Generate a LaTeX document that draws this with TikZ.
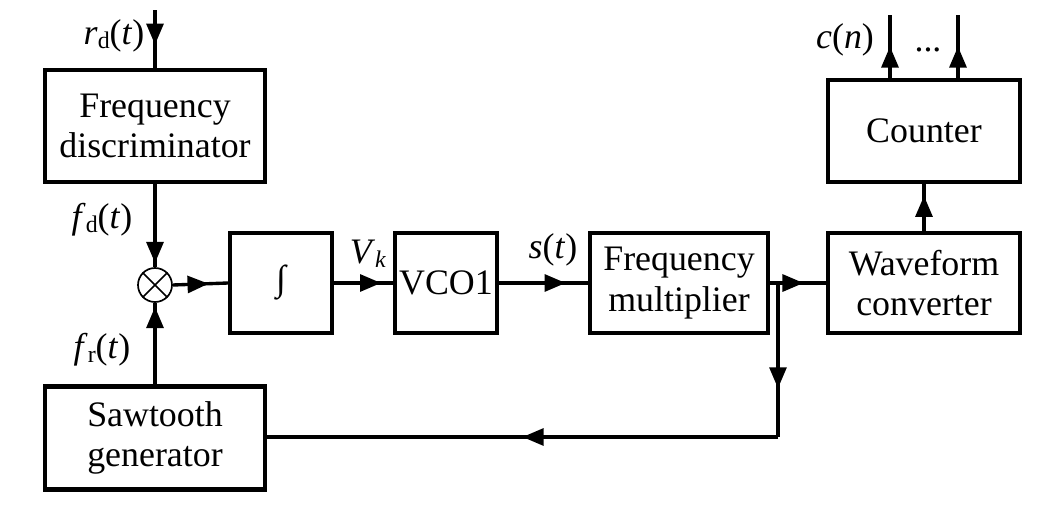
\documentclass[tikz,border=0pt]{standalone}
\usepackage{fontspec}
\setmainfont{Liberation Serif}
\usepackage{tikz}
\usetikzlibrary{arrows.meta}
\usetikzlibrary{decorations.markings}

\newcommand{\sig}[2]{\textit{#1}\raisebox{-0.25ex}{\fontsize{17}{19}\selectfont #2}}

\begin{document}
\begin{tikzpicture}[x=0.025cm,y=-0.025cm,line width=2.4pt]
	\tikzstyle{blk}=[draw=black,line width=3pt,inner sep=0pt,font=\fontsize{25.5}{29}\selectfont,align=center]
	\tikzstyle{lbl}=[font=\fontsize{25.5}{29}\selectfont,inner sep=1pt]
	\tikzstyle{mid}=[postaction={decorate},decoration={markings,mark=at position #1 with {\arrow{Triangle[length=15pt,width=12pt]}}}]
	\useasboundingbox (0,0) rectangle (1060,507);

	% blocks
	\node[blk,minimum width=220*0.025cm,minimum height=112*0.025cm] (fd) at (155,126) {Frequency\\discriminator};
	\node[draw,circle,line width=1.2pt,minimum size=34*0.025cm,inner sep=0pt] (mix) at (155,285) {};
	\node[blk,minimum width=102*0.025cm,minimum height=100*0.025cm] (int) at (281,283) {\char"222B};
	\node[blk,minimum width=102*0.025cm,minimum height=100*0.025cm] (vco) at (446,283) {VCO1};
	\node[blk,minimum width=178*0.025cm,minimum height=100*0.025cm] (fm) at (679,283) {Frequency\\multiplier};
	\node[blk,minimum width=192*0.025cm,minimum height=100*0.025cm] (wc) at (924,283) {Waveform\\converter};
	\node[blk,minimum width=192*0.025cm,minimum height=102*0.025cm] (cnt) at (924,131) {Counter};
	\node[blk,minimum width=220*0.025cm,minimum height=103*0.025cm] (saw) at (155,438) {Sawtooth\\generator};

	% cross in the mixer
	\draw[line width=1.2pt] (mix.north west) -- (mix.south east) (mix.north east) -- (mix.south west);

	% free ends
	\coordinate (rin) at (155,10);
	\coordinate (br) at (778,285);
	\coordinate (brd) at (778,437);
	\coordinate (o1) at (890,15);
	\coordinate (o2) at (958,15);

	% connectors
	\draw[mid=0.6] (rin) -- (fd.north);
	\draw[mid=0.95] (fd.south) -- (mix.north);
	\draw[mid=0.95] (saw.north) -- (mix.south);
	\draw[mid=0.65] (mix.east) -- (int.west);
	\draw[mid=0.8] (int.east) -- (vco.west);
	\draw[mid=0.75] (vco.east) -- (fm.west);
	\draw[mid=0.6] (fm.east) -- (wc.west);
	\draw[mid=0.68] (br) -- (brd);
	\draw[mid=0.5] (brd) -- (brd -| saw.east);
	\draw[mid=0.75] (wc.north) -- (cnt.south);
	\draw[mid=0.5] (cnt.north -| o1) -- (o1);
	\draw[mid=0.5] (cnt.north -| o2) -- (o2);

	% labels
	\node[lbl] (rl) at (114,36) {\sig{r}{d}(\textit{t})};
	\node[lbl] (fdl) at (102,220) {\sig{f}{d}(\textit{t})};
	\node[lbl] (frl) at (102,350) {\sig{f}{r}(\textit{t})};
	\node[lbl] (vkl) at (368,254) {\sig{V}{\textit{k}}};
	\node[lbl] (sl) at (553,250) {\textit{s}(\textit{t})};
	\node[lbl] (cl) at (845,40) {\textit{c}(\textit{n})};
	\node[lbl] (dots) at (928,50) {...};
\end{tikzpicture}
\end{document}
